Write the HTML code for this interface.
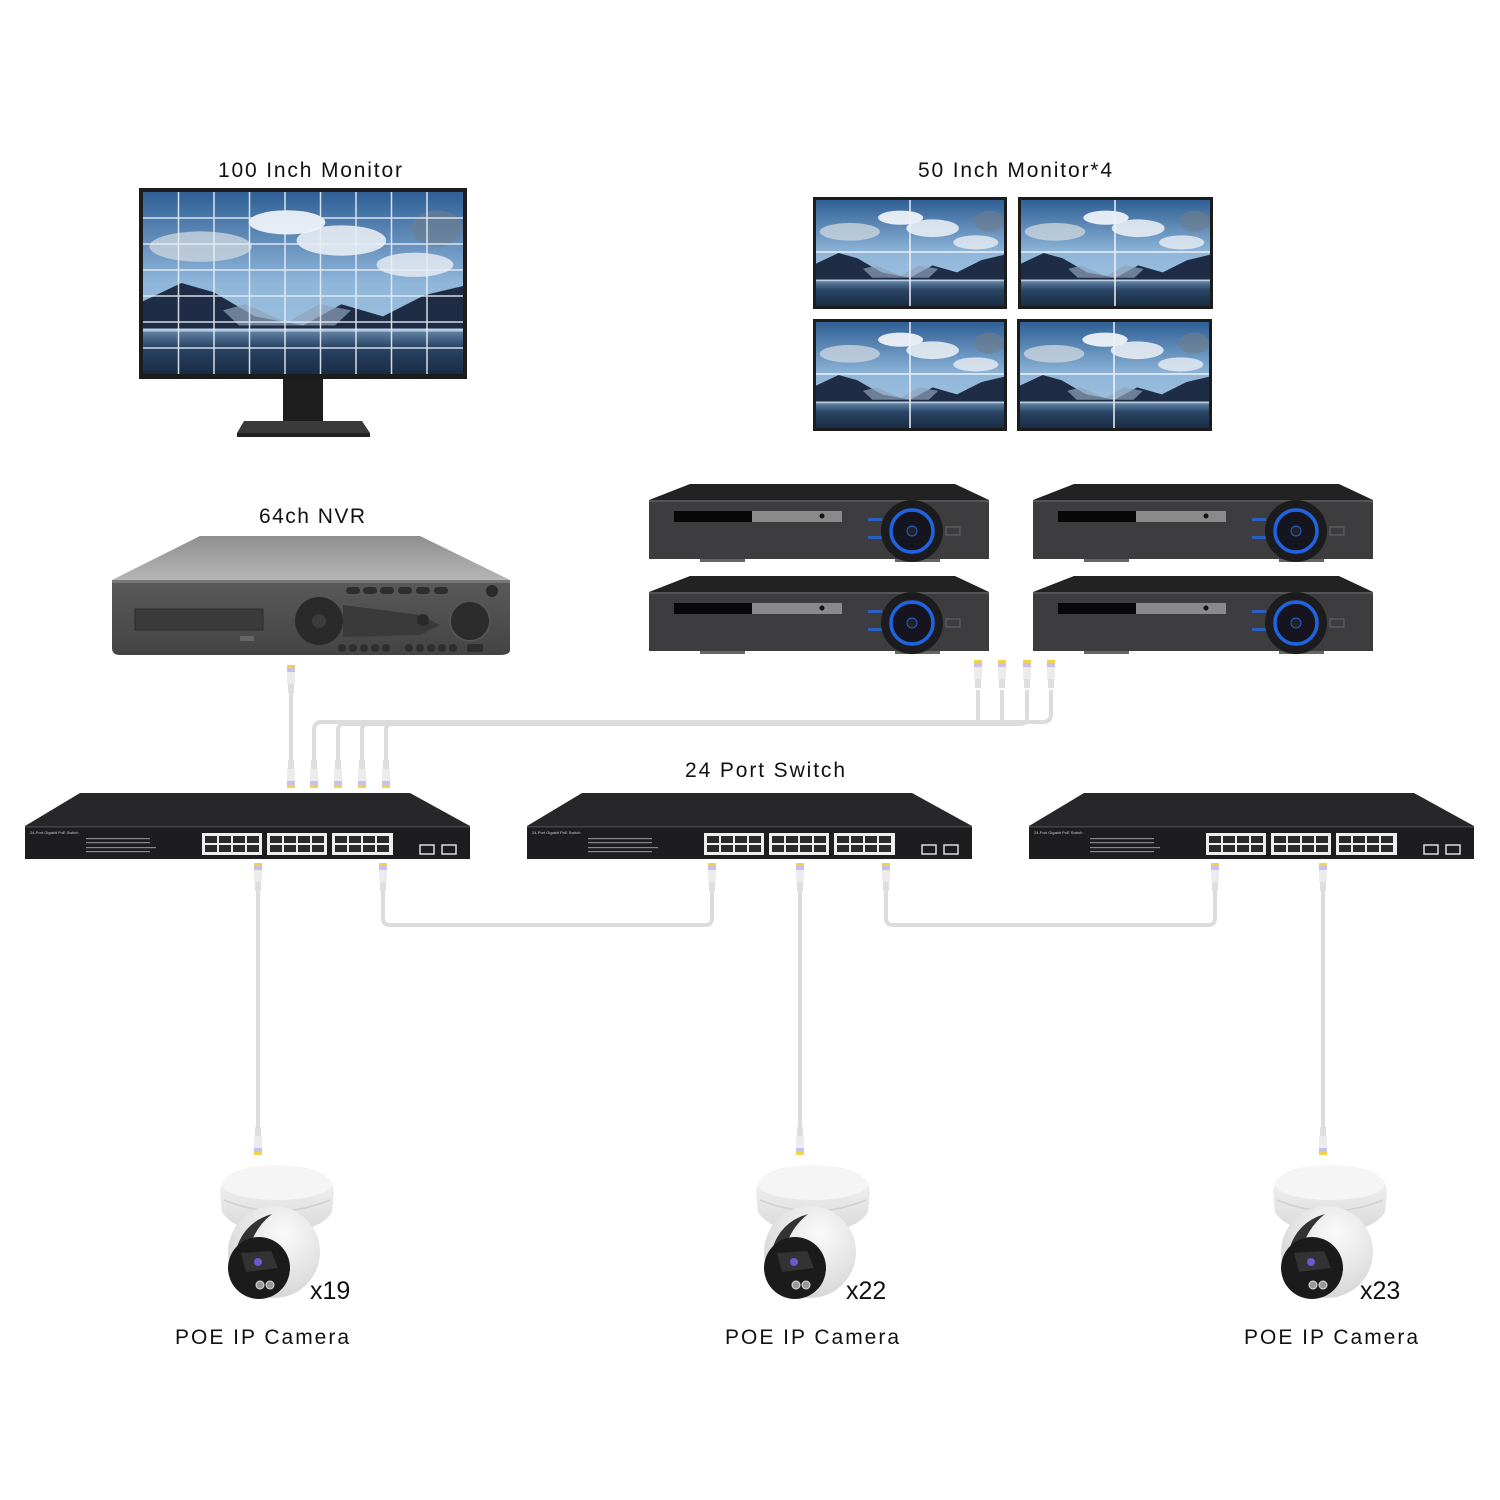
<!DOCTYPE html>
<html><head><meta charset="utf-8"><style>
html,body{margin:0;padding:0;background:#fff}
svg{display:block}
text{font-family:"Liberation Sans",Arial,sans-serif;fill:#111}
</style></head><body>
<svg width="1500" height="1500" viewBox="0 0 1500 1500" xmlns="http://www.w3.org/2000/svg">
<defs>
<linearGradient id="sky" x1="0" y1="0" x2="0" y2="1">
<stop offset="0" stop-color="#2f5f95"/><stop offset="0.5" stop-color="#8fb6da"/><stop offset="1" stop-color="#a9c6df"/>
</linearGradient>
<linearGradient id="water" x1="0" y1="0" x2="0" y2="1">
<stop offset="0" stop-color="#6b8db0"/><stop offset="0.4" stop-color="#2a4565"/><stop offset="1" stop-color="#1a2c44"/>
</linearGradient>
<linearGradient id="nvrTop" x1="0" y1="0" x2="0" y2="1">
<stop offset="0" stop-color="#8f8f8f"/><stop offset="1" stop-color="#b5b5b5"/>
</linearGradient>
<linearGradient id="nvrFace" x1="0" y1="0" x2="0" y2="1">
<stop offset="0" stop-color="#5a5a5a"/><stop offset="1" stop-color="#444"/>
</linearGradient>
<linearGradient id="dome" x1="0" y1="0" x2="0" y2="1">
<stop offset="0" stop-color="#f7f7f7"/><stop offset="1" stop-color="#d9d9d9"/>
</linearGradient>
<radialGradient id="ball" cx="0.6" cy="0.3" r="0.8">
<stop offset="0" stop-color="#fafafa"/><stop offset="1" stop-color="#d2d2d2"/>
</radialGradient>
<symbol id="scene" viewBox="0 0 100 60" preserveAspectRatio="none">
<rect width="100" height="60" fill="url(#sky)"/>
<ellipse cx="18" cy="18" rx="16" ry="5" fill="#c9d3dd" opacity="0.8"/>
<ellipse cx="45" cy="10" rx="12" ry="4" fill="#fff" opacity="0.85"/>
<ellipse cx="62" cy="16" rx="14" ry="5" fill="#eef2f6" opacity="0.85"/>
<ellipse cx="85" cy="24" rx="12" ry="4" fill="#e8edf2" opacity="0.8"/>
<ellipse cx="92" cy="12" rx="8" ry="6" fill="#6f7d8c" opacity="0.6"/>
<polygon points="0,36 12,30 22,33 35,41 50,44 62,37 75,41 88,34 100,31 100,46 0,46" fill="#1e2d45"/>
<polygon points="25,39 32,37 45,43 55,37 65,39 60,44 30,44" fill="#8fa3bb" opacity="0.7"/>
<rect y="45" width="100" height="15" fill="url(#water)"/>
<rect y="45" width="100" height="1" fill="#b9cde0"/>
</symbol>
<g id="conn">
<rect x="-4" y="0" width="8" height="3" fill="#f2d24a"/>
<rect x="-4" y="3" width="8" height="4" fill="#c8c0e8"/>
<rect x="-4" y="7" width="8" height="12" fill="#ececec"/>
<rect x="-3" y="19" width="6" height="9" fill="#dedede"/>
</g>
<g id="switch">
<polygon points="80,793 410,793 470,826 25,826" fill="#27272a"/>
<rect x="25" y="826" width="445" height="33" fill="#1d1d20"/>
<rect x="25" y="826" width="445" height="1.5" fill="#444"/>
<text x="30" y="834" font-size="4" style="fill:#ccc">24-Port Gigabit PoE Switch</text>
<g fill="#888"><rect x="86" y="838" width="64" height="1.2"/><rect x="86" y="842" width="64" height="1.2"/><rect x="86" y="847" width="70" height="1.2"/><rect x="86" y="851" width="64" height="1.2"/></g>
<g fill="#eee">
<rect x="202" y="833" width="60" height="22"/><rect x="267" y="833" width="60" height="22"/><rect x="332" y="833" width="61" height="22"/>
</g>
<g fill="#2a2a2a">
<rect x="205" y="836" width="12" height="7"/><rect x="219" y="836" width="12" height="7"/><rect x="233" y="836" width="12" height="7"/><rect x="247" y="836" width="12" height="7"/>
<rect x="205" y="845" width="12" height="7"/><rect x="219" y="845" width="12" height="7"/><rect x="233" y="845" width="12" height="7"/><rect x="247" y="845" width="12" height="7"/>
<rect x="270" y="836" width="12" height="7"/><rect x="284" y="836" width="12" height="7"/><rect x="298" y="836" width="12" height="7"/><rect x="312" y="836" width="12" height="7"/>
<rect x="270" y="845" width="12" height="7"/><rect x="284" y="845" width="12" height="7"/><rect x="298" y="845" width="12" height="7"/><rect x="312" y="845" width="12" height="7"/>
<rect x="335" y="836" width="12" height="7"/><rect x="349" y="836" width="12" height="7"/><rect x="363" y="836" width="12" height="7"/><rect x="377" y="836" width="12" height="7"/>
<rect x="335" y="845" width="12" height="7"/><rect x="349" y="845" width="12" height="7"/><rect x="363" y="845" width="12" height="7"/><rect x="377" y="845" width="12" height="7"/>
</g>
<rect x="420" y="845" width="14" height="9" fill="none" stroke="#ddd" stroke-width="1.5"/>
<rect x="442" y="845" width="14" height="9" fill="none" stroke="#ddd" stroke-width="1.5"/>
</g>
<g id="dvr">
<polygon points="690,484 955,484 989,500 649,500" fill="#222"/>
<rect x="649" y="500" width="340" height="59" fill="#3d3d3f"/>
<rect x="649" y="500" width="340" height="2" fill="#555"/>
<rect x="674" y="511" width="78" height="11" fill="#080808"/>
<rect x="752" y="511" width="90" height="11" fill="#8a8a8a"/>
<circle cx="822" cy="516" r="2.5" fill="#111"/>
<rect x="700" y="559" width="45" height="3" fill="#666"/>
<rect x="895" y="559" width="45" height="3" fill="#666"/>
<rect x="868" y="518" width="14" height="3" fill="#2a5fc0"/>
<rect x="868" y="536" width="14" height="3" fill="#2a5fc0"/>
<circle cx="912" cy="531" r="31" fill="#1c1c1e"/>
<circle cx="912" cy="531" r="21" fill="#151520" stroke="#1f63e0" stroke-width="3.5"/>
<circle cx="912" cy="531" r="5" fill="#222" stroke="#1f63e0" stroke-width="1"/>
<rect x="946" y="527" width="14" height="8" fill="none" stroke="#666" stroke-width="1"/>
</g>
<g id="cam">
<path d="M220,1192 Q222,1165 277,1165 Q332,1165 334,1192 L332,1212 Q320,1232 277,1232 Q234,1232 222,1212 Z" fill="url(#dome)"/>
<ellipse cx="277" cy="1184" rx="55" ry="16" fill="#f5f5f5"/>
<path d="M224,1200 Q277,1222 330,1200" fill="none" stroke="#d0d0d0" stroke-width="1.5"/>
<circle cx="274" cy="1252" r="46" fill="url(#ball)"/>
<path d="M236,1250 Q244,1222 272,1214 Q254,1228 248,1252 Z" fill="#333"/>
<circle cx="259" cy="1268" r="31" fill="#1b1b1b"/>
<polygon points="241,1253 271,1251 278,1268 246,1272" fill="#333"/>
<circle cx="258" cy="1262" r="4" fill="#6a5ad0"/>
<circle cx="260" cy="1285" r="4" fill="#999" stroke="#ddd" stroke-width="1"/>
<circle cx="270" cy="1285" r="4" fill="#999" stroke="#ddd" stroke-width="1"/>
</g>
</defs>

<g fill="none" stroke="#dcdcdc" stroke-width="4" stroke-linejoin="round">
<line x1="291" y1="690" x2="291" y2="765"/>
<path d="M314,765 L314,730 Q314,722 322,722 L1043,722 Q1051,722 1051,714 L1051,690"/>
<path d="M338,765 L338,730 Q338,724 344,724 L1020,724 Q1027,724 1027,718 L1027,690"/>
<path d="M362,765 L362,730 Q362,724 368,724 L996,724 Q1002,724 1002,718 L1002,690"/>
<path d="M386,765 L386,730 Q386,724 392,724 L972,724 Q978,724 978,718 L978,690"/>
<line x1="258" y1="890" x2="258" y2="1128"/>
<line x1="800" y1="890" x2="800" y2="1128"/>
<line x1="1323" y1="890" x2="1323" y2="1128"/>
<path d="M383,890 L383,918 Q383,925 390,925 L705,925 Q712,925 712,918 L712,890"/>
<path d="M886,890 L886,918 Q886,925 893,925 L1208,925 Q1215,925 1215,918 L1215,890"/>
</g>
<use href="#conn" transform="translate(291,665)"/>
<use href="#conn" transform="translate(978,660)"/>
<use href="#conn" transform="translate(1002,660)"/>
<use href="#conn" transform="translate(1027,660)"/>
<use href="#conn" transform="translate(1051,660)"/>
<use href="#conn" transform="translate(291,788) scale(1,-1)"/>
<use href="#conn" transform="translate(314,788) scale(1,-1)"/>
<use href="#conn" transform="translate(338,788) scale(1,-1)"/>
<use href="#conn" transform="translate(362,788) scale(1,-1)"/>
<use href="#conn" transform="translate(386,788) scale(1,-1)"/>
<use href="#conn" transform="translate(258,863)"/>
<use href="#conn" transform="translate(383,863)"/>
<use href="#conn" transform="translate(712,863)"/>
<use href="#conn" transform="translate(800,863)"/>
<use href="#conn" transform="translate(886,863)"/>
<use href="#conn" transform="translate(1215,863)"/>
<use href="#conn" transform="translate(1323,863)"/>
<use href="#conn" transform="translate(258,1155) scale(1,-1)"/>
<use href="#conn" transform="translate(800,1155) scale(1,-1)"/>
<use href="#conn" transform="translate(1323,1155) scale(1,-1)"/>

<rect x="139" y="188" width="328" height="191" fill="#1c1c1c"/>
<svg x="143" y="192" width="320" height="182"><use href="#scene" width="320" height="182"/></svg>
<g stroke="#e8eef5" stroke-width="1.5" opacity="0.9">
<line x1="178.5" y1="192" x2="178.5" y2="374"/><line x1="214" y1="192" x2="214" y2="374"/><line x1="249.5" y1="192" x2="249.5" y2="374"/><line x1="285" y1="192" x2="285" y2="374"/><line x1="320.5" y1="192" x2="320.5" y2="374"/><line x1="356" y1="192" x2="356" y2="374"/><line x1="391.5" y1="192" x2="391.5" y2="374"/><line x1="427" y1="192" x2="427" y2="374"/>
<line x1="143" y1="218" x2="463" y2="218"/><line x1="143" y1="244" x2="463" y2="244"/><line x1="143" y1="270" x2="463" y2="270"/><line x1="143" y1="296" x2="463" y2="296"/><line x1="143" y1="322" x2="463" y2="322"/><line x1="143" y1="348" x2="463" y2="348"/>
</g>
<rect x="283" y="379" width="40" height="42" fill="#1e1e1e"/>
<polygon points="244,421 362,421 370,433 237,433" fill="#3a3a3a"/>
<rect x="237" y="433" width="133" height="4" fill="#222"/>

<g>
<rect x="813" y="197" width="194" height="112" fill="#1c1c1c"/>
<svg x="816" y="200" width="188" height="106"><use href="#scene" width="188" height="106"/></svg>
<rect x="1018" y="197" width="195" height="112" fill="#1c1c1c"/>
<svg x="1021" y="200" width="189" height="106"><use href="#scene" width="189" height="106"/></svg>
<rect x="813" y="319" width="194" height="112" fill="#1c1c1c"/>
<svg x="816" y="322" width="188" height="106"><use href="#scene" width="188" height="106"/></svg>
<rect x="1017" y="319" width="195" height="112" fill="#1c1c1c"/>
<svg x="1020" y="322" width="189" height="106"><use href="#scene" width="189" height="106"/></svg>
<g stroke="#eef2f6" stroke-width="1.5">
<line x1="910" y1="200" x2="910" y2="306"/><line x1="816" y1="252" x2="1004" y2="252"/>
<line x1="1115" y1="200" x2="1115" y2="306"/><line x1="1021" y1="252" x2="1210" y2="252"/>
<line x1="910" y1="322" x2="910" y2="428"/><line x1="816" y1="374" x2="1004" y2="374"/>
<line x1="1114" y1="322" x2="1114" y2="428"/><line x1="1020" y1="374" x2="1209" y2="374"/>
</g>
</g>

<polygon points="200,536 420,536 510,580 112,580" fill="url(#nvrTop)"/>
<path d="M112,580 L510,580 L510,650 Q510,655 500,655 L120,655 Q112,655 112,648 Z" fill="url(#nvrFace)"/>
<rect x="112" y="580" width="398" height="3" fill="#777"/>
<rect x="135" y="609" width="128" height="21" fill="#3a3a3a" stroke="#2c2c2c"/>
<rect x="240" y="636" width="14" height="5" fill="#666"/>
<circle cx="319" cy="621" r="24" fill="#2a2a2a"/>
<circle cx="319" cy="621" r="7" fill="#3c3c3c"/>
<path d="M343,605 L420,615 L440,625 L420,635 L343,637" fill="#3a3a3a"/>
<circle cx="470" cy="621" r="20" fill="#2c2c2c" stroke="#555" stroke-width="2"/>
<circle cx="423" cy="620" r="6" fill="#2a2a2a"/>
<circle cx="492" cy="591" r="6" fill="#2a2a2a"/>
<g fill="#2e2e2e">
<rect x="346" y="587" width="14" height="7" rx="3.5"/><rect x="363" y="587" width="14" height="7" rx="3.5"/><rect x="380" y="587" width="14" height="7" rx="3.5"/><rect x="398" y="587" width="14" height="7" rx="3.5"/><rect x="416" y="587" width="14" height="7" rx="3.5"/><rect x="434" y="587" width="14" height="7" rx="3.5"/>
<circle cx="342" cy="648" r="4"/><circle cx="353" cy="648" r="4"/><circle cx="364" cy="648" r="4"/><circle cx="375" cy="648" r="4"/><circle cx="386" cy="648" r="4"/>
<circle cx="409" cy="648" r="4"/><circle cx="420" cy="648" r="4"/><circle cx="431" cy="648" r="4"/><circle cx="442" cy="648" r="4"/><circle cx="453" cy="648" r="4"/>
<rect x="467" y="644" width="16" height="8" rx="2"/>
</g>

<use href="#dvr"/>
<use href="#dvr" transform="translate(384,0)"/>
<use href="#dvr" transform="translate(0,92)"/>
<use href="#dvr" transform="translate(384,92)"/>

<use href="#switch"/>
<use href="#switch" transform="translate(502,0)"/>
<use href="#switch" transform="translate(1004,0)"/>

<use href="#cam"/>
<use href="#cam" transform="translate(536,0)"/>
<use href="#cam" transform="translate(1053,0)"/>

<text x="218" y="177" font-size="21" textLength="184" lengthAdjust="spacing">100 Inch Monitor</text>
<text x="918" y="177" font-size="21" textLength="194" lengthAdjust="spacing">50 Inch Monitor*4</text>
<text x="259" y="523" font-size="21" textLength="106" lengthAdjust="spacing">64ch NVR</text>
<text x="685" y="777" font-size="21" textLength="160" lengthAdjust="spacing">24 Port Switch</text>
<text x="310" y="1299" font-size="25">x19</text>
<text x="846" y="1299" font-size="25">x22</text>
<text x="1360" y="1299" font-size="25">x23</text>
<text x="175" y="1344" font-size="21" textLength="174" lengthAdjust="spacing">POE IP Camera</text>
<text x="725" y="1344" font-size="21" textLength="174" lengthAdjust="spacing">POE IP Camera</text>
<text x="1244" y="1344" font-size="21" textLength="174" lengthAdjust="spacing">POE IP Camera</text>
</svg>
</body></html>
